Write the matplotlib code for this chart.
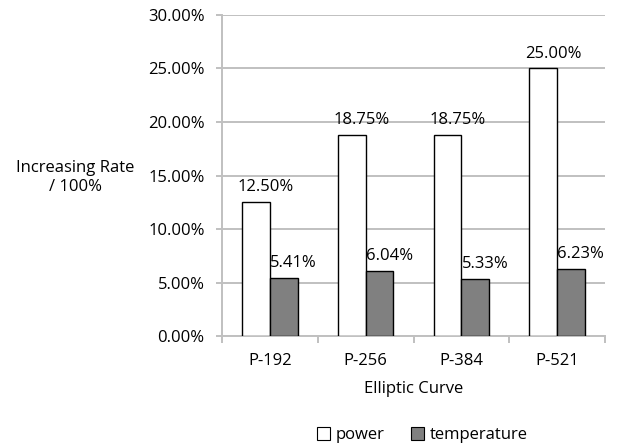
import numpy as np
import matplotlib.pyplot as plt
from matplotlib.patches import Patch

curves = ['P-192', 'P-256', 'P-384', 'P-521']
power = [12.50, 18.75, 18.75, 25.00]
temperature = [5.41, 6.04, 5.33, 6.23]

plt.rcParams['font.family'] = ['Open Sans', 'DejaVu Sans']
fs = 12

fig = plt.figure(figsize=(6.26, 4.46), dpi=100)
ax = fig.add_axes([0.3546, 0.2466, 0.6119, 0.7198])

x = np.arange(len(curves))
w = 0.29
b1 = ax.bar(x - w / 2, power, w, color='white', edgecolor='black', linewidth=1.0, zorder=3)
b2 = ax.bar(x + w / 2, temperature, w, color='#808080', edgecolor='black', linewidth=1.0, zorder=3)

for bars, vals in ((b1, power), (b2, temperature)):
    for r, v in zip(bars, vals):
        ax.annotate(f'{v:.2f}%', (r.get_x() + r.get_width() / 2, v), xytext=(7, 5),
                    textcoords='offset points', ha='center', va='bottom', fontsize=fs)

ax.set_xlim(-0.5, 3.5)
ax.set_ylim(0, 30)
ax.set_yticks(np.arange(0, 31, 5))
ax.set_yticklabels([f'{t:.2f}%' for t in np.arange(0, 31, 5)], fontsize=fs)
ax.set_xticks(x)
ax.set_xticklabels(curves, fontsize=fs)
ax.set_xticks(np.arange(-0.5, 4, 1), minor=True)
ax.tick_params(axis='x', which='major', length=0, pad=12)
ax.tick_params(axis='x', which='minor', length=5, width=1.4, color='#c0c0c0')
ax.tick_params(axis='y', length=4.5, width=1.4, color='#c0c0c0', pad=8)
ax.grid(axis='y', color='#c0c0c0', linewidth=1.4, zorder=0)
for s in ['top', 'right']:
    ax.spines[s].set_visible(False)
for s in ['left', 'bottom']:
    ax.spines[s].set_color('#c0c0c0')
    ax.spines[s].set_linewidth(1.4)

ax.set_xlabel('Elliptic Curve', fontsize=fs, labelpad=9)
fig.text(0.12, 0.603, 'Increasing Rate\n/ 100%', ha='center', va='center', fontsize=fs, linespacing=1.25)

handles = [Patch(facecolor='white', edgecolor='black', linewidth=0.8),
           Patch(facecolor='#808080', edgecolor='black', linewidth=0.8)]
fig.legend(handles, ['power', 'temperature'], loc='center', bbox_to_anchor=(0.675, 0.024),
           ncol=2, frameon=False, fontsize=fs, handlelength=0.75, handleheight=0.75,
           handletextpad=0.35, columnspacing=1.6)

fig.savefig('out.png', dpi=100)
